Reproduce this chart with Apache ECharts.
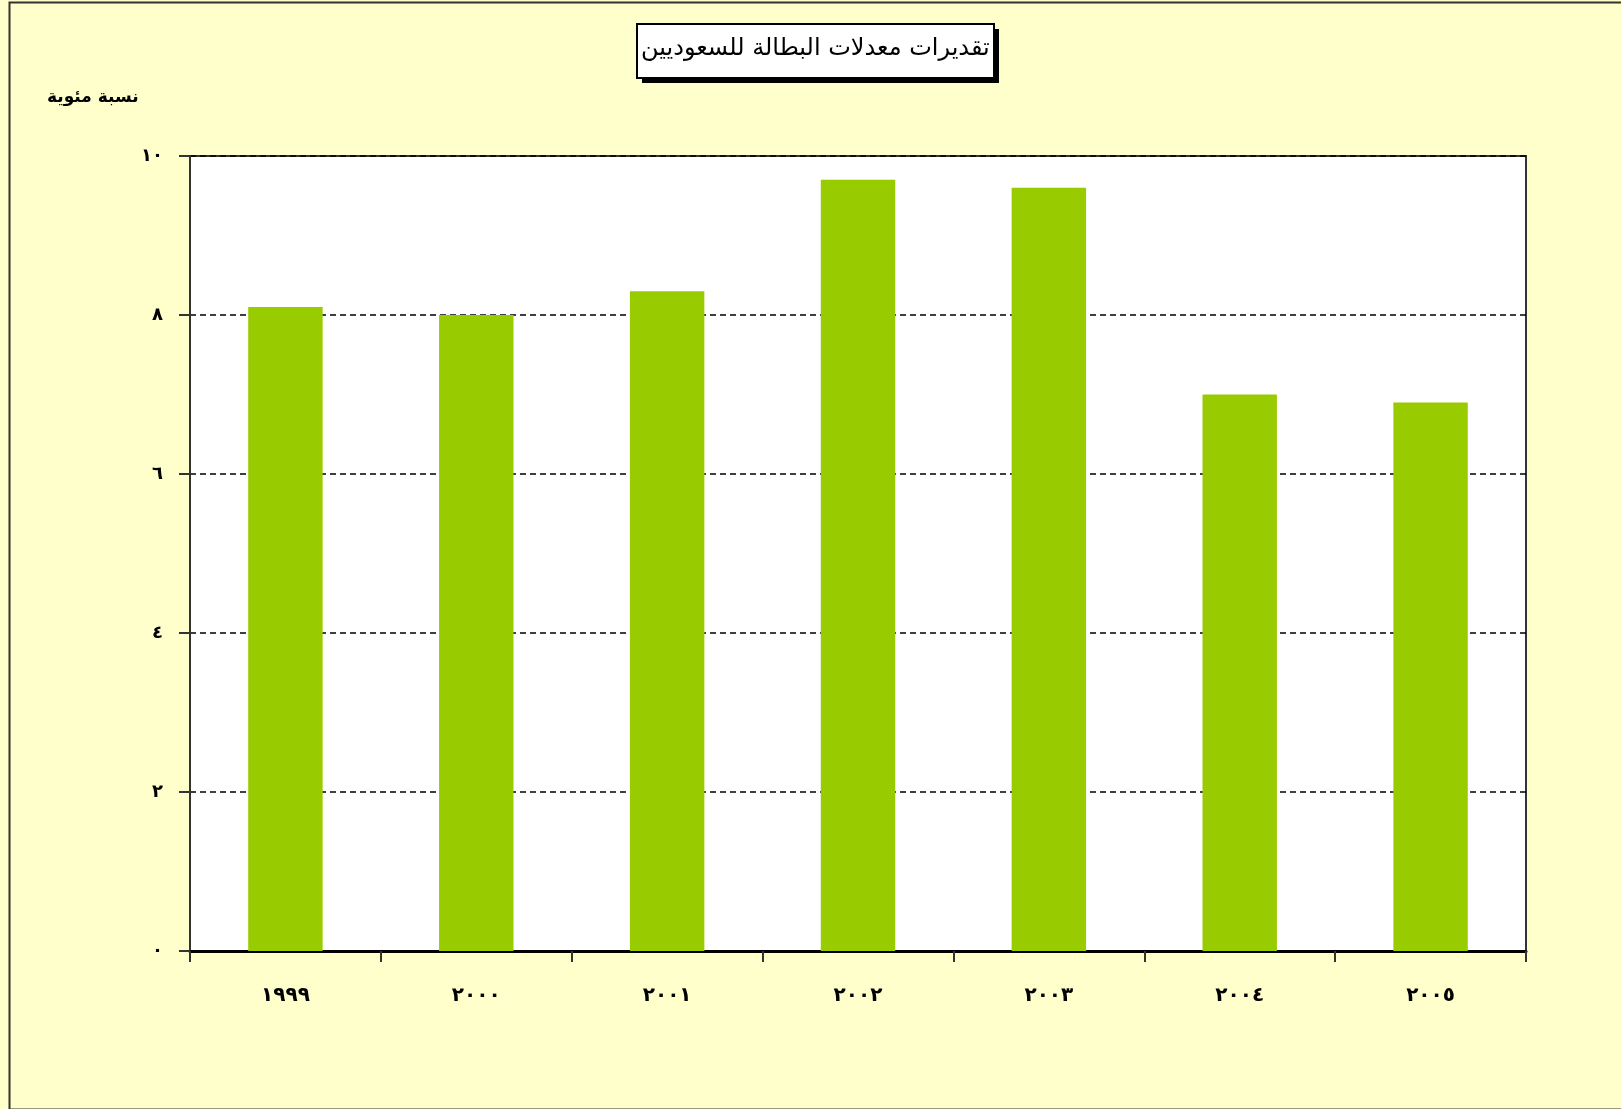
<!DOCTYPE html>
<html>
<head>
<meta charset="utf-8">
<script src="https://cdn.jsdelivr.net/npm/echarts@6/dist/echarts.min.js"></script>
<style>
  html, body { margin: 0; padding: 0; background: #ffffcc; }
  #barchart { width: 1621px; height: 1109px; }
</style>
</head>
<body>
<div id="barchart"></div>
<script>
// السنوات ونسب البطالة
var years = ['١٩٩٩', '٢٠٠٠', '٢٠٠١', '٢٠٠٢', '٢٠٠٣', '٢٠٠٤', '٢٠٠٥'];
var rates = [8.1, 8.0, 8.3, 9.7, 9.6, 7.0, 6.9];
var yTickLabels = ['٠', '٢', '٤', '٦', '٨', '١٠'];

var myChart = echarts.init(document.getElementById('barchart'));

var option = {
    backgroundColor: '#ffffcc',
    animation: false,
    title: {
        text: 'تقديرات معدلات البطالة للسعوديين',
        left: 641,
        top: 37,
        padding: 0,
        z: 10,
        textStyle: {
            fontFamily: 'DejaVu Sans',
            fontSize: 24,
            fontWeight: 'normal',
            color: '#000'
        }
    },
    graphic: [
        {
            type: 'rect',
            left: 7,
            top: 0,
            shape: { width: 1614, height: 1107 },
            style: { fill: 'none', stroke: '#333', lineWidth: 2 },
            silent: true
        },
        // ظل مربع العنوان
        {
            type: 'rect',
            left: 642,
            top: 29,
            shape: { width: 357, height: 54 },
            style: { fill: '#000' },
            silent: true
        },
        {
            type: 'rect',
            left: 636,
            top: 23,
            shape: { width: 357, height: 54 },
            style: { fill: '#fff', stroke: '#000', lineWidth: 2 },
            silent: true
        },
        {
            type: 'text',
            left: 47,
            top: 89,
            style: {
                text: 'نسبة مئوية',
                fontFamily: 'DejaVu Sans',
                fontSize: 17,
                fontWeight: 'bold',
                fill: '#000'
            }
        }
    ],
    grid: {
        left: 190,
        right: 95,
        top: 156,
        bottom: 158,
        show: true,
        backgroundColor: '#fff',
        borderColor: '#333',
        borderWidth: 2
    },
    xAxis: {
        type: 'category',
        data: years,
        axisLine: { lineStyle: { color: '#000', width: 3 } },
        axisTick: { show: true, length: 11, lineStyle: { color: '#333', width: 2 } },
        axisLabel: {
            margin: 35,
            fontFamily: 'DejaVu Sans',
            fontSize: 20,
            fontWeight: 'bold',
            color: '#000'
        }
    },
    yAxis: {
        type: 'value',
        min: 0,
        max: 10,
        interval: 2,
        axisLine: { show: true, lineStyle: { color: '#333', width: 2 } },
        axisTick: { show: true, length: 11, lineStyle: { color: '#333', width: 2 } },
        axisLabel: {
            margin: 27,
            fontFamily: 'DejaVu Sans',
            fontSize: 18,
            fontWeight: 'bold',
            color: '#000',
            formatter: function (v) { return yTickLabels[v / 2]; }
        },
        splitLine: {
            show: true,
            lineStyle: { color: '#000', width: 1.5, type: [6, 4] }
        }
    },
    series: [
        {
            name: 'معدل البطالة',
            type: 'bar',
            barWidth: '39%',
            itemStyle: { color: '#99cc00' },
            data: rates
        }
    ]
};
myChart.setOption(option);
</script>
</body>
</html>
